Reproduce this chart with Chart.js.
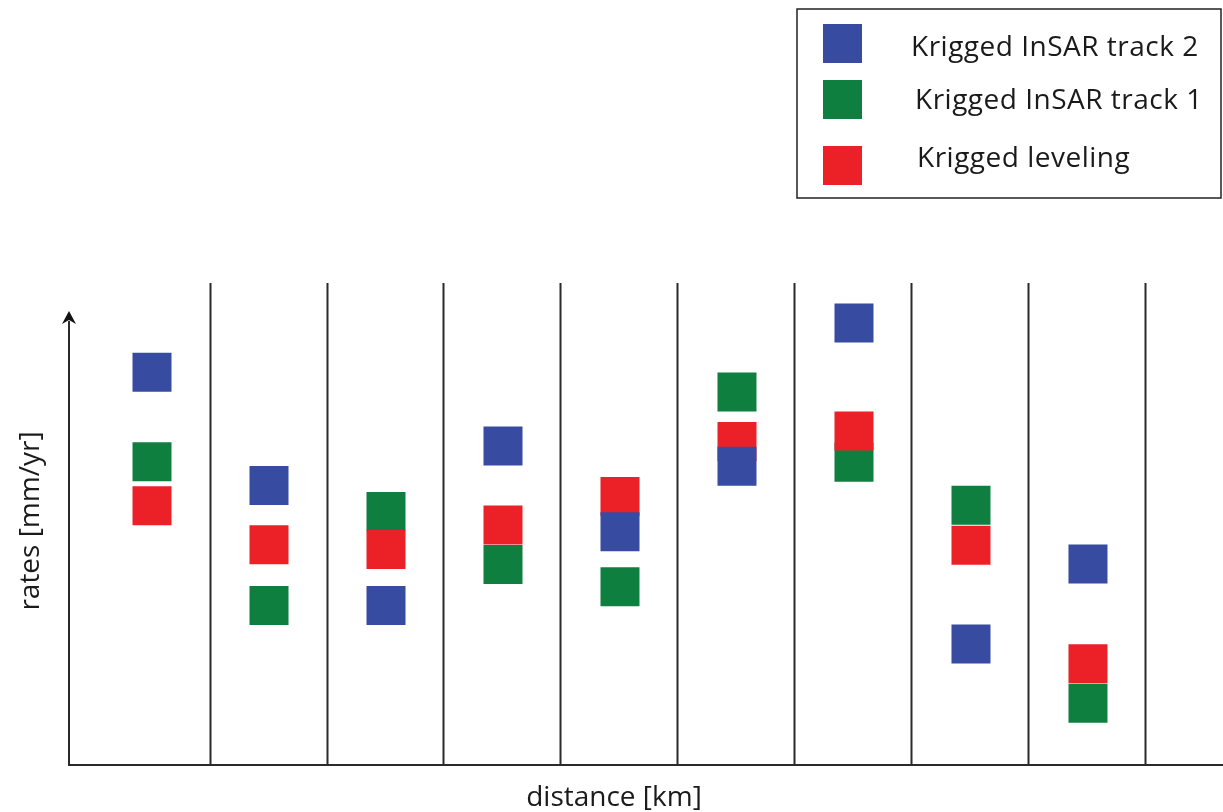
<!DOCTYPE html>
<html>
<head>
<meta charset="utf-8">
<title>Krigged rates along distance</title>
<script src="https://cdn.jsdelivr.net/npm/chart.js@4.4.1/dist/chart.umd.min.js"></script>
<style>
    html, body { margin: 0; padding: 0; background: #fff; }
    #wrap { width: 1223px; height: 812px; position: relative; }
</style>
</head>
<body>
<div id="wrap"><canvas id="ratesChart"></canvas></div>
<script>
// Profile positions (one column per distance bin)
const positions = [1, 2, 3, 4, 5, 6, 7, 8, 9];
const binEdges = [1.5, 2.5, 3.5, 4.5, 5.5, 6.5, 7.5, 8.5, 9.5];

// Rates (axis has no ticks, arbitrary units 0-100)
const insarTrack2 = [81.5, 58.0, 33.1, 66.2, 48.4, 62.0, 91.7, 25.1, 41.7];
const insarTrack1 = [62.9, 33.1, 52.6, 41.6, 37.0, 77.4, 62.8, 53.9, 12.8];
const leveling    = [53.8, 45.7, 44.7, 49.8, 55.7, 67.1, 69.3, 45.6, 21.0];

const seriesLabels = ['Krigged InSAR track 2', 'Krigged InSAR track 1', 'Krigged leveling'];
const seriesColors = ['#374ba0', '#0f7f40', '#ec2027'];

const FONT = '"Open Sans", "Noto Sans", sans-serif';
const LINE = '#2a2a2a';

function toPoints(values) {
    return positions.map((x, i) => ({ x: x, y: values[i] }));
}

// Separators, axes and arrow head
const framePlugin = {
    id: 'frame',
    beforeDatasetsDraw(chart) {
        const ctx = chart.ctx;
        const area = chart.chartArea;
        const xs = chart.scales.x;
        ctx.save();
        ctx.strokeStyle = LINE;
        ctx.lineWidth = 2;
        binEdges.forEach(edge => {
            const px = Math.round(xs.getPixelForValue(edge) - 1) + 0.5;
            ctx.beginPath();
            ctx.moveTo(px, area.top);
            ctx.lineTo(px, area.bottom);
            ctx.stroke();
        });

        // x axis
        ctx.beginPath();
        ctx.moveTo(area.left, area.bottom);
        ctx.lineTo(area.right, area.bottom);
        ctx.stroke();

        // y axis with arrow
        const ax = area.left + 1;
        ctx.beginPath();
        ctx.moveTo(ax, area.bottom);
        ctx.lineTo(ax, area.top + 38);
        ctx.stroke();
        ctx.fillStyle = '#111';
        ctx.beginPath();
        ctx.moveTo(ax, area.top + 28);
        ctx.lineTo(ax - 7, area.top + 41);
        ctx.lineTo(ax, area.top + 37);
        ctx.lineTo(ax + 7, area.top + 41);
        ctx.closePath();
        ctx.fill();
        ctx.restore();
    },
    afterDraw(chart) {
        const ctx = chart.ctx;
        ctx.save();
        ctx.fillStyle = '#1a1a1a';
        ctx.font = '28px ' + FONT;

        // axis titles
        ctx.textAlign = 'center';
        ctx.textBaseline = 'alphabetic';
        ctx.fillText('distance [km]', 614, 806);
        ctx.save();
        ctx.translate(39, 521);
        ctx.rotate(-Math.PI / 2);
        ctx.fillText('rates [mm/yr]', 0, 0);
        ctx.restore();

        // legend box
        ctx.strokeStyle = '#222';
        ctx.lineWidth = 1.5;
        ctx.strokeRect(797, 9, 424, 189);

        const boxTops = [24, 80, 146];
        const textX = [911, 915, 917];
        const baselines = [56, 109, 167];
        ctx.textAlign = 'left';
        ctx.font = '28px ' + FONT;
        ctx.letterSpacing = '0.5px';
        chart.data.datasets.forEach((ds, i) => {
            ctx.fillStyle = ds.backgroundColor;
            ctx.fillRect(823, boxTops[i], 39, 39);
            ctx.fillStyle = '#1a1a1a';
            ctx.fillText(ds.label, textX[i], baselines[i]);
        });
        ctx.restore();
    }
};

const ctx = document.getElementById('ratesChart').getContext('2d');

new Chart(ctx, {
    type: 'scatter',
    data: {
        datasets: [
            {
                label: seriesLabels[0],
                data: toPoints(insarTrack2),
                backgroundColor: seriesColors[0],
                order: 0
            },
            {
                label: seriesLabels[1],
                data: toPoints(insarTrack1),
                backgroundColor: seriesColors[1],
                order: 2
            },
            {
                label: seriesLabels[2],
                data: toPoints(leveling),
                backgroundColor: seriesColors[2],
                order: 1
            }
        ]
    },
    options: {
        responsive: true,
        maintainAspectRatio: false,
        animation: false,
        layout: {
            autoPadding: false,
            padding: { left: 68, right: 0, top: 283, bottom: 47 }
        },
        elements: {
            point: {
                pointStyle: 'rect',
                radius: 27.58,
                hoverRadius: 27.58,
                borderWidth: 0
            }
        },
        plugins: {
            legend: { display: false },
            tooltip: { enabled: false }
        },
        scales: {
            x: {
                type: 'linear',
                min: 0.282,
                max: 10.154,
                display: false
            },
            y: {
                min: 0,
                max: 100,
                display: false
            }
        }
    },
    plugins: [framePlugin]
});
</script>
</body>
</html>
